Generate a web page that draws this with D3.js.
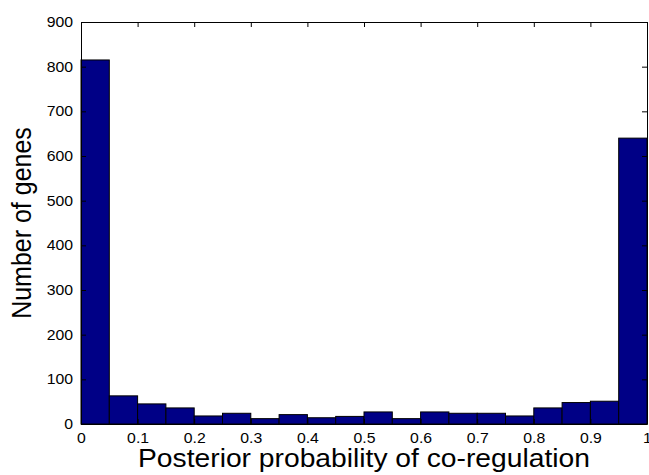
<!DOCTYPE html>
<html>
<head>
<meta charset="utf-8">
<script src="https://cdn.jsdelivr.net/npm/d3@7"></script>
<style>
  html, body { margin: 0; padding: 0; background: #fff; }
  svg { display: block; }
  text { font-family: "Liberation Sans", Arial, Helvetica, sans-serif; fill: #000; }
</style>
</head>
<body>
<svg id="chart" width="649" height="475"></svg>
<script>
// Histogram bins (lower edges) and gene counts per bin
const binStarts = [0, 0.05, 0.1, 0.15, 0.2, 0.25, 0.3, 0.35, 0.4, 0.45,
                   0.5, 0.55, 0.6, 0.65, 0.7, 0.75, 0.8, 0.85, 0.9, 0.95];
const binWidth = 0.05;
const counts = [815, 63, 45, 36, 18, 24, 12, 21, 14, 17,
                27, 12, 27, 24, 24, 18, 36, 48, 51, 640];

const xTicks = [0, 0.1, 0.2, 0.3, 0.4, 0.5, 0.6, 0.7, 0.8, 0.9, 1];
const xTickLabels = ["0", "0.1", "0.2", "0.3", "0.4", "0.5", "0.6", "0.7", "0.8", "0.9", "1"];
const yTicks = [0, 100, 200, 300, 400, 500, 600, 700, 800, 900];

const xTitle = "Posterior probability of co-regulation";
const yTitle = "Number of genes";

const svg = d3.select("#chart");
const margin = { left: 81, top: 22, right: 2, bottom: 51 };
const W = 649, H = 475;
const x0 = margin.left, x1 = W - margin.right;
const y0 = H - margin.bottom, y1 = margin.top;
const stretch = 1.13; // text is set slightly wide

const x = d3.scaleLinear().domain([0, 1]).range([x0, x1]);
const y = d3.scaleLinear().domain([0, 900]).range([y0, y1]);

// Bars
svg.append("g")
  .selectAll("rect")
  .data(binStarts.map((s, i) => ({ s, c: counts[i] })))
  .join("rect")
  .attr("x", d => x(d.s))
  .attr("y", d => y(d.c))
  .attr("width", d => x(d.s + binWidth) - x(d.s))
  .attr("height", d => y(0) - y(d.c))
  .attr("fill", "#000086")
  .attr("stroke", "#000")
  .attr("stroke-width", 1);

const tickLen = 5;

// Bottom axis (ticks inward)
const axBottom = svg.append("g").attr("transform", `translate(0,${y0})`)
  .call(d3.axisBottom(x).tickValues(xTicks)
        .tickFormat((d, i) => xTickLabels[i])
        .tickSizeInner(-tickLen).tickSizeOuter(0).tickPadding(9));
// Left axis
const axLeft = svg.append("g").attr("transform", `translate(${x0},0)`)
  .call(d3.axisLeft(y).tickValues(yTicks)
        .tickSizeInner(-tickLen).tickSizeOuter(0).tickPadding(8));
// Top and right box axes without labels
const axTop = svg.append("g").attr("transform", `translate(0,${y1})`)
  .call(d3.axisTop(x).tickValues(xTicks).tickFormat("")
        .tickSizeInner(-tickLen).tickSizeOuter(0));
const axRight = svg.append("g").attr("transform", `translate(${x1},0)`)
  .call(d3.axisRight(y).tickValues(yTicks).tickFormat("")
        .tickSizeInner(-tickLen).tickSizeOuter(0));

[axBottom, axLeft, axTop, axRight].forEach(g => {
  g.selectAll("path.domain").attr("stroke", "#000").attr("stroke-width", 1);
  g.selectAll(".tick line").attr("stroke", "#000").attr("stroke-width", 1);
  g.selectAll(".tick text")
    .style("font-family", '"Liberation Sans", Arial, sans-serif')
    .style("font-size", "14px").attr("fill", "#000");
});
// widen tick labels about their anchor points
axBottom.selectAll(".tick text").attr("transform", `scale(${stretch},1)`);
axLeft.selectAll(".tick text")
  .attr("x", -8 / stretch)
  .attr("transform", `scale(${stretch},1)`);

// Axis titles
svg.append("text")
  .attr("transform", `translate(${(x0 + x1) / 2},467) scale(${stretch},1)`)
  .attr("text-anchor", "middle")
  .style("font-size", "25px")
  .text(xTitle);

svg.append("text")
  .attr("transform", `translate(31,${(y0 + y1) / 2}) scale(${stretch},1) rotate(-90)`)
  .attr("text-anchor", "middle")
  .style("font-size", "25px")
  .text(yTitle);
</script>
</body>
</html>
